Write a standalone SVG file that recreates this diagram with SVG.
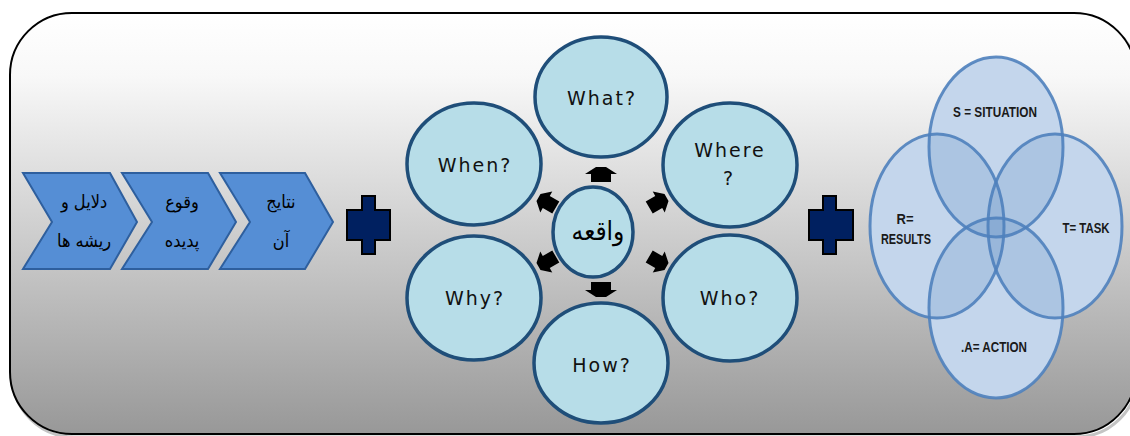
<svg xmlns="http://www.w3.org/2000/svg" width="1130" height="436" viewBox="0 0 1130 436">
  <defs>
    <linearGradient id="bg" x1="0" y1="13" x2="0" y2="434" gradientUnits="userSpaceOnUse">
      <stop offset="0" stop-color="#ffffff"/>
      <stop offset="0.15" stop-color="#f8f8f8"/>
      <stop offset="1" stop-color="#989898"/>
    </linearGradient>
    <polygon id="arr" points="-5,-8 5,-8 16,-1 10,-1 10,7 -10,7 -10,-1 -16,-1"/>
    <polygon id="arrd" points="-4,-11 4,-11 12,-2 7,-2 7,9 -7,9 -7,-2 -12,-2"/>
    <style>
      .chev { fill: #558ed5; stroke: #2e5f9e; stroke-width: 2; stroke-linejoin: miter; }
      .fa { font-family: "DejaVu Sans Condensed", "DejaVu Sans", sans-serif; font-size: 18px; fill: #000; text-anchor: middle; }
      .plus { fill: #002060; stroke: #000; stroke-width: 2; }
      .q { fill: #b7dde8; stroke: #1f4e79; stroke-width: 3.5; }
      .qt { font-family: "DejaVu Sans", sans-serif; font-size: 19px; letter-spacing: 2px; fill: #111; text-anchor: middle; }
      .arrow { fill: #000; }
      .vbase { fill: #e2ecf8; stroke: none; }
      .vt { fill: #4f81bd; fill-opacity: 0.2; stroke: #4f81bd; stroke-width: 3; stroke-opacity: 0.9; }
      .vl { font-family: "Liberation Sans", Arial, sans-serif; font-size: 15px; font-weight: bold; fill: #1a1a1a; text-anchor: middle; }
    </style>
  </defs>

  <!-- frame -->
  <rect x="12" y="16" width="1126" height="421" rx="62" ry="62" fill="none" stroke="#c4c4c4" stroke-width="3"/>
  <rect x="10" y="13" width="1126" height="421" rx="62" ry="62" fill="url(#bg)" stroke="#000" stroke-width="2"/>

  <!-- chevrons -->
  <g id="chev1">
    <polygon class="chev" points="23,173 110,173 137,222 110,269 23,269 52,222"/>
    <text class="fa" x="84" y="208">دلایل و</text>
    <text class="fa" x="84" y="247">ریشه ها</text>
  </g>
  <g id="chev2">
    <polygon class="chev" points="122,173 208,173 236,222 208,269 122,269 152,222"/>
    <text class="fa" x="182" y="208">وقوع</text>
    <text class="fa" x="182" y="247">پدیده</text>
  </g>
  <g id="chev3">
    <polygon class="chev" points="220,173 305,173 333,222 305,269 220,269 250,222"/>
    <text class="fa" x="281" y="208">نتایج</text>
    <text class="fa" x="281" y="247">آن</text>
  </g>

  <!-- plus signs -->
  <g id="plus1">
    <polygon class="plus" points="362,196 375,196 375,210 390,210 390,240 375,240 375,254 362,254 362,240 347,240 347,210 362,210"/>
  </g>
  <g id="plus2">
    <polygon class="plus" points="823,196 836,196 836,210 853,210 853,240 836,240 836,254 823,254 823,240 809,240 809,210 823,210"/>
  </g>

  <!-- question circles -->
  <g id="what">
    <ellipse class="q" cx="601" cy="97" rx="66" ry="60"/>
    <text class="qt" x="602" y="105">What?</text>
  </g>
  <g id="when">
    <ellipse class="q" cx="474" cy="164" rx="67" ry="61"/>
    <text class="qt" x="475" y="172">When?</text>
  </g>
  <g id="where">
    <ellipse class="q" cx="730" cy="165" rx="67" ry="62"/>
    <text class="qt" x="730" y="157">Where</text>
    <text class="qt" x="729" y="185">?</text>
  </g>
  <g id="why">
    <ellipse class="q" cx="474" cy="298" rx="67" ry="62"/>
    <text class="qt" x="475" y="305">Why?</text>
  </g>
  <g id="who">
    <ellipse class="q" cx="730" cy="298" rx="67" ry="63"/>
    <text class="qt" x="730" y="305">Who?</text>
  </g>
  <g id="how">
    <ellipse class="q" cx="601" cy="363" rx="67" ry="60"/>
    <text class="qt" x="602" y="372">How?</text>
  </g>
  <g id="center">
    <ellipse class="q" cx="593" cy="232" rx="40" ry="45"/>
    <text class="fa" x="598" y="240" style="font-size:26px">واقعه</text>
  </g>

  <!-- connectors (block arrows) -->
  <g id="connectors" class="arrow">
    <use href="#arr" transform="translate(601,175)"/>
    <use href="#arr" transform="translate(601,289) rotate(180)"/>
    <use href="#arrd" transform="translate(548,203) rotate(-60)"/>
    <use href="#arrd" transform="translate(657,203) rotate(60)"/>
    <use href="#arrd" transform="translate(548,261) rotate(-120)"/>
    <use href="#arrd" transform="translate(657,261) rotate(120)"/>
  </g>

  <!-- STAR venn -->
  <g id="venn-base">
    <ellipse class="vbase" cx="996" cy="147" rx="67" ry="90"/>
    <ellipse class="vbase" cx="937" cy="226" rx="67" ry="92"/>
    <ellipse class="vbase" cx="1055" cy="226" rx="67" ry="92"/>
    <ellipse class="vbase" cx="996" cy="308" rx="67" ry="90"/>
  </g>
  <g id="situation">
    <ellipse class="vt" cx="996" cy="147" rx="67" ry="90"/>
    <text class="vl" x="995" y="117" textLength="84" lengthAdjust="spacingAndGlyphs">S = SITUATION</text>
  </g>
  <g id="results">
    <ellipse class="vt" cx="937" cy="226" rx="67" ry="92"/>
    <text class="vl" x="905" y="224" textLength="17" lengthAdjust="spacingAndGlyphs">R=</text>
    <text class="vl" x="906" y="244" textLength="50" lengthAdjust="spacingAndGlyphs">RESULTS</text>
  </g>
  <g id="task">
    <ellipse class="vt" cx="1055" cy="226" rx="67" ry="92"/>
    <text class="vl" x="1086" y="233" textLength="47" lengthAdjust="spacingAndGlyphs">T= TASK</text>
  </g>
  <g id="action">
    <ellipse class="vt" cx="996" cy="308" rx="67" ry="90"/>
    <text class="vl" x="994" y="352" textLength="66" lengthAdjust="spacingAndGlyphs">.A= ACTION</text>
  </g>
</svg>
